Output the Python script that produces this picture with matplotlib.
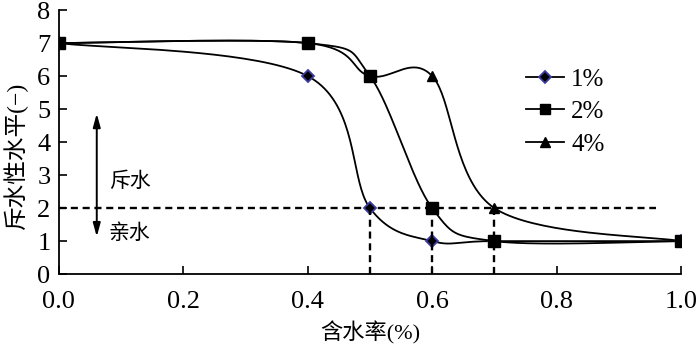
import matplotlib.pyplot as plt
import numpy as np

plt.rcParams['font.family'] = ['Liberation Serif', 'Noto Sans CJK SC']
plt.rcParams['axes.unicode_minus'] = False

# data
x_1 = [0.0, 0.4, 0.5, 0.6, 0.7, 1.0]
y_1 = [7, 6, 2, 1, 1, 1]
x_2 = [0.0, 0.4, 0.5, 0.6, 0.7, 1.0]
y_2 = [7, 7, 6, 2, 1, 1]
x_4 = [0.0, 0.4, 0.5, 0.6, 0.7, 1.0]
y_4 = [7, 7, 6, 6, 2, 1]
labels = ['1%', '2%', '4%']
threshold = 2
cross_x = [0.5, 0.6, 0.7]


def smooth(xs, ys, n=40):
    # catmull-rom style bezier, like the spreadsheet "smoothed line"
    p = np.column_stack([xs, ys]).astype(float)
    p = np.vstack([p[0], p, p[-1]])
    out = []
    for i in range(1, len(p) - 2):
        p0, p1, p2, p3 = p[i - 1], p[i], p[i + 1], p[i + 2]
        c1 = p1 + (p2 - p0) / 6
        c2 = p2 - (p3 - p1) / 6
        t = np.linspace(0, 1, n)[:, None]
        seg = ((1 - t) ** 3) * p1 + 3 * ((1 - t) ** 2) * t * c1 + 3 * (1 - t) * t ** 2 * c2 + t ** 3 * p2
        out.append(seg)
    out = np.vstack(out)
    return out[:, 0], out[:, 1]


fig = plt.figure(figsize=(7, 3.47), dpi=100)
ax = fig.add_axes([0.084, 0.21, 0.889, 0.761])

lw = 1.3
dia = dict(marker='D', ms=6.5, mfc='black', mec='#3b3ba0', mew=1.3)
sx, sy = smooth(x_4, y_4)
ax.plot(sx, sy, color='black', lw=lw)
ax.plot(x_4, y_4, ls='none', marker='^', ms=7.5, color='black')
sx, sy = smooth(x_1, y_1)
ax.plot(sx, sy, color='black', lw=lw)
ax.plot(x_1, y_1, ls='none', **dia)
sx, sy = smooth(x_2, y_2)
ax.plot(sx, sy, color='black', lw=lw)
ax.plot(x_2, y_2, ls='none', marker='s', ms=8, color='black')

# legend proxies
h1, = ax.plot([], [], color='black', lw=lw, **dia)
h2, = ax.plot([], [], color='black', lw=lw, marker='s', ms=7)
h4, = ax.plot([], [], color='black', lw=lw, marker='^', ms=7)
ax.legend([h1, h2, h4], labels, loc='upper left', bbox_to_anchor=(0.715, 0.865),
          frameon=False, fontsize=18, handlelength=1.5, labelspacing=0.4, handletextpad=0.3)

# threshold lines
ax.plot([0, 0.96], [threshold, threshold], color='black', lw=1.7, ls=(0, (3, 2)))
for cx in cross_x:
    ax.plot([cx, cx], [0, threshold], color='black', lw=1.7, ls=(0, (3, 2)))

ax.annotate('', xy=(0.061, 4.95), xytext=(0.061, 1.05),
            arrowprops=dict(arrowstyle='<|-|>,head_width=0.22,head_length=0.8', color='black', lw=1.4))
ax.text(0.08, 2.8, '斥水', fontsize=15, va='center', ha='left')
ax.text(0.08, 1.2, '亲水', fontsize=15, va='center', ha='left')

ax.set_xlim(0, 1.0)
ax.set_ylim(0, 8)
ax.set_xticks(np.arange(0, 1.01, 0.2))
ax.set_xticklabels(['%.1f' % v for v in np.arange(0, 1.01, 0.2)])
ax.set_yticks(range(0, 9))
ax.tick_params(direction='in', labelsize=19, length=6, width=1.2)
ax.tick_params(axis='x', pad=12)
ax.tick_params(axis='y', pad=6)
ax.spines['top'].set_visible(False)
ax.spines['right'].set_visible(False)
ax.spines['left'].set_linewidth(1.3)
ax.spines['bottom'].set_linewidth(1.3)
ax.set_xlabel('含水率(%)', fontsize=16)
ax.set_ylabel('斥水性水平(−)', fontsize=17)
ax.xaxis.set_label_coords(0.5, -0.18)
ax.yaxis.set_label_coords(-0.05, 0.45)
for sp in ax.spines.values():
    sp.set_clip_on(False)

fig.savefig('out.png', dpi=100)
